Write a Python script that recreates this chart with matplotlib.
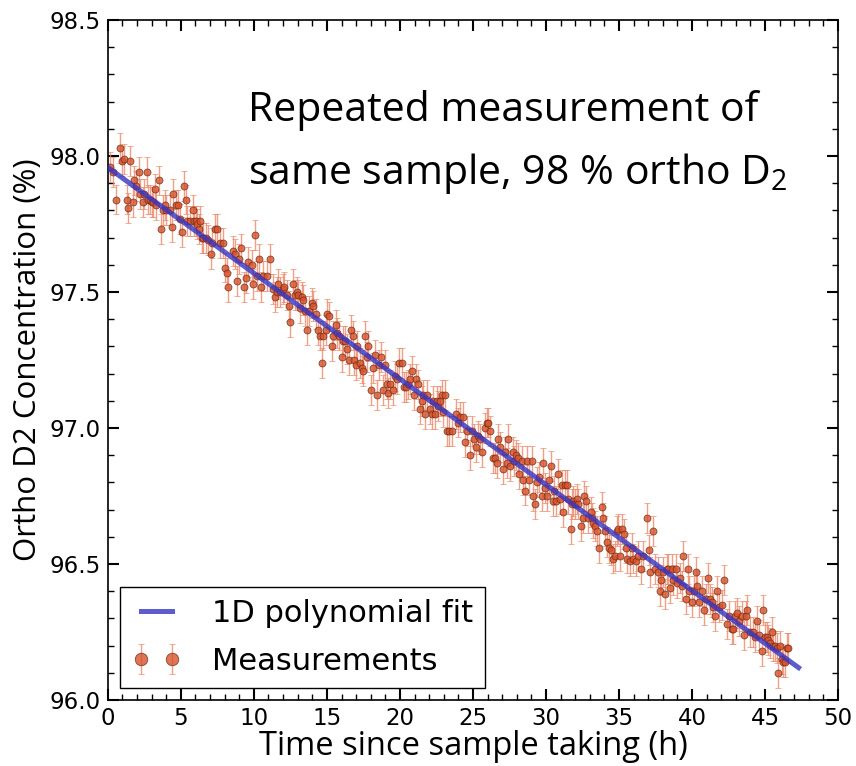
import numpy as np
import matplotlib.pyplot as plt
from matplotlib.ticker import MultipleLocator

time_h = [
    0.14, 0.32, 0.55, 0.82, 1.00, 1.10, 1.28, 1.39, 1.55, 1.69, 1.78, 1.96, 2.15, 2.19,
    2.42, 2.47, 2.69, 2.76, 2.88, 2.99, 3.10, 3.22, 3.33, 3.52, 3.61, 3.79, 3.90, 3.97,
    4.25, 4.36, 4.43, 4.66, 4.82, 4.93, 5.05, 5.21, 5.34, 5.43, 5.62, 5.80, 5.89, 6.03,
    6.12, 6.26, 6.30, 6.42, 6.53, 6.71, 6.87, 7.03, 7.10, 7.33, 7.44, 7.67, 7.90, 8.01,
    8.13, 8.24, 8.54, 8.70, 8.86, 9.00, 9.15, 9.31, 9.45, 9.61, 9.84, 9.95, 10.07, 10.18,
    10.36, 10.52, 10.64, 10.87, 11.10, 11.32, 11.44, 11.55,
    11.67, 11.82, 11.96, 12.08, 12.28, 12.42, 12.50, 12.69, 12.81, 12.92, 13.04, 13.15,
    13.27, 13.38, 13.49, 13.65, 13.79, 13.95, 14.06, 14.25, 14.41, 14.52, 14.63, 14.75,
    14.93, 15.02, 15.16, 15.32, 15.43, 15.61, 15.71, 15.84, 16.00, 16.12, 16.23, 16.35,
    16.53, 16.62, 16.76, 16.85, 16.99, 17.08, 17.26, 17.38, 17.49, 17.60, 17.72, 17.83,
    17.99, 18.13, 18.29, 18.45, 18.58, 18.67, 18.86, 18.97, 19.09, 19.20, 19.31, 19.50,
    19.66, 19.77, 19.95, 20.11, 20.27, 20.41, 20.57, 20.68, 20.86, 20.96, 21.09, 21.25,
    21.37, 21.48, 21.60, 21.71, 21.83, 22.05, 22.17, 22.28, 22.39, 22.51, 22.63, 22.74,
    22.85, 22.97, 23.08, 23.20, 23.38,
    23.54, 23.83, 23.99, 24.11, 24.29, 24.45, 24.57, 24.79, 24.91, 25.07, 25.21, 25.37,
    25.48, 25.60, 25.82, 25.94, 26.05, 26.16, 26.35, 26.51, 26.62, 26.74, 26.85, 27.03,
    27.19, 27.35, 27.42, 27.53, 27.72, 27.81, 27.95, 28.11, 28.17, 28.33, 28.45, 28.56,
    28.67, 28.86, 29.02, 29.13, 29.25, 29.41, 29.54, 29.70, 29.82, 29.93, 30.05, 30.23,
    30.32, 30.46, 30.55, 30.69, 30.85, 30.96, 31.07, 31.19, 31.30, 31.42, 31.53, 31.69,
    31.76, 31.87, 31.99, 32.10, 32.21, 32.37, 32.51, 32.62, 32.74, 32.90, 33.06, 33.13,
    33.24, 33.36, 33.47, 33.63, 33.81, 33.88, 34.04, 34.20, 34.34, 34.43, 34.57, 34.73,
    34.84,
    34.95, 35.07, 35.18, 35.34, 35.48, 35.57, 35.75, 35.87, 35.98, 36.16, 36.32, 36.48,
    36.67, 36.89, 37.08, 37.12, 37.30, 37.47, 37.69, 37.81, 37.88, 38.04, 38.15, 38.26,
    38.38, 38.49, 38.61, 38.72, 38.90, 39.00, 39.18, 39.29, 39.41, 39.59, 39.71, 39.82,
    39.98, 40.14, 40.28, 40.37, 40.50, 40.66, 40.82, 40.96, 41.12, 41.23, 41.35, 41.46,
    41.58, 41.74, 41.87, 42.03, 42.19, 42.37, 42.56, 42.72, 42.83, 42.95, 43.10, 43.24,
    43.40, 43.56, 43.69, 43.79, 43.97, 44.16, 44.32, 44.43, 44.61, 44.77, 44.89, 45.00,
    45.11, 45.23, 45.34, 45.46, 45.57, 45.68, 45.80, 45.91, 46.03, 46.14, 46.26, 46.37,
    46.48, 46.60,
]
ortho_pct = [
    97.96, 97.94, 97.84, 98.03, 97.98, 97.99, 97.84, 97.81, 97.98, 97.83, 97.91, 97.89, 97.94, 97.86,
    97.83, 97.86, 97.94, 97.84, 97.84, 97.83, 97.83, 97.88, 97.82, 97.91, 97.73, 97.80, 97.82, 97.80,
    97.80, 97.74, 97.86, 97.82, 97.82, 97.77, 97.72, 97.89, 97.84, 97.76, 97.76, 97.80, 97.76, 97.76,
    97.75, 97.73, 97.76, 97.70, 97.70, 97.70, 97.69, 97.64, 97.68, 97.73, 97.73, 97.68, 97.68, 97.59,
    97.57, 97.52, 97.65, 97.64, 97.54, 97.62, 97.66, 97.52, 97.55, 97.61, 97.60, 97.53, 97.71, 97.56,
    97.62, 97.52, 97.56, 97.56, 97.62, 97.51, 97.48, 97.50,
    97.53, 97.50, 97.51, 97.52, 97.49, 97.45, 97.39, 97.53, 97.49, 97.50, 97.49, 97.44,
    97.48, 97.47, 97.43, 97.36, 97.43, 97.46, 97.45, 97.42, 97.36, 97.34, 97.24, 97.34,
    97.36, 97.42, 97.41, 97.30, 97.34, 97.38, 97.35, 97.34, 97.26, 97.32, 97.32, 97.29,
    97.25, 97.36, 97.34, 97.25, 97.23, 97.30, 97.24, 97.22, 97.21, 97.34, 97.26, 97.30,
    97.14, 97.22, 97.27, 97.12, 97.23, 97.26, 97.14, 97.23, 97.16, 97.13, 97.16, 97.14,
    97.19, 97.18, 97.24, 97.24, 97.15, 97.15, 97.16, 97.18, 97.21, 97.12, 97.18, 97.16,
    97.07, 97.10, 97.12, 97.05, 97.12, 97.07, 97.05, 97.10, 97.05, 97.10, 97.08, 97.10,
    97.12, 97.06, 97.12, 96.99, 96.99,
    96.99, 97.05, 97.02, 97.04, 97.04, 96.95, 96.99, 96.90, 96.99, 96.96, 96.93, 96.97,
    96.96, 96.91, 97.00, 97.02, 97.02, 96.99, 96.89, 96.89, 96.87, 96.96, 96.93, 96.85,
    96.91, 96.87, 96.96, 96.86, 96.91, 96.88, 96.90, 96.89, 96.83, 96.88, 96.81, 96.77,
    96.88, 96.81, 96.88, 96.75, 96.72, 96.80, 96.82, 96.75, 96.87, 96.78, 96.75, 96.81,
    96.86, 96.73, 96.77, 96.73, 96.83, 96.74, 96.79, 96.69, 96.79, 96.79, 96.74, 96.63,
    96.72, 96.73, 96.72, 96.74, 96.72, 96.64, 96.67, 96.75, 96.73, 96.67, 96.69, 96.67,
    96.65, 96.64, 96.62, 96.56, 96.71, 96.67, 96.62, 96.58, 96.56, 96.55, 96.52, 96.53,
    96.62,
    96.63, 96.53, 96.63, 96.61, 96.56, 96.52, 96.51, 96.56, 96.52, 96.51, 96.53, 96.48,
    96.53, 96.67, 96.55, 96.47, 96.62, 96.48, 96.47, 96.40, 96.44, 96.47, 96.39, 96.48,
    96.48, 96.41, 96.48, 96.44, 96.48, 96.43, 96.45, 96.42, 96.53, 96.37, 96.48, 96.40,
    96.36, 96.40, 96.47, 96.42, 96.36, 96.40, 96.33, 96.37, 96.45, 96.37, 96.36, 96.34,
    96.31, 96.40, 96.34, 96.35, 96.44, 96.28, 96.31, 96.26, 96.26, 96.31, 96.32, 96.29,
    96.31, 96.24, 96.31, 96.33, 96.25, 96.25, 96.23, 96.29, 96.24, 96.18, 96.33, 96.23,
    96.23, 96.22, 96.21, 96.25, 96.20, 96.20, 96.19, 96.10, 96.20, 96.15, 96.14, 96.14,
    96.19, 96.19,
]
err_pct = 0.055
fit_range_h = [0.0, 47.3]

plt.rcParams.update({
    "font.family": ["DejaVu Sans"],
    "mathtext.fontset": "custom",
    "mathtext.rm": "Open Sans",
})

fig = plt.figure(figsize=(8.56, 7.66), dpi=100)
ax = fig.add_axes([0.126, 0.0862, 0.853, 0.8877])

t = np.array(time_h)
c = np.array(ortho_pct)
coef = np.polyfit(t, c, 1)
tf = np.array(fit_range_h)

ax.errorbar(t, c, yerr=err_pct, fmt="o", ms=5, mfc="#d9522a", mec="#6b2a14",
            mew=0.6, alpha=0.8, ecolor="#ec8a6a", elinewidth=1.0, capsize=2.5,
            capthick=1.0, label="Measurements", zorder=2)
# fit line drawn over the points, semi-transparent
ax.plot(tf, np.polyval(coef, tf), color="#3434c4", lw=3.6, alpha=0.8,
        label="1D polynomial fit", zorder=3)

ax.set_xlim(0, 50)
ax.set_ylim(96.0, 98.5)
ax.xaxis.set_major_locator(MultipleLocator(5))
ax.xaxis.set_minor_locator(MultipleLocator(1))
ax.yaxis.set_major_locator(MultipleLocator(0.5))
ax.yaxis.set_minor_locator(MultipleLocator(0.1))
ax.yaxis.set_major_formatter(plt.FormatStrFormatter("%.1f"))
ax.tick_params(which="both", direction="in", top=True, right=True, labelsize=16.5)
ax.tick_params(which="major", length=8, width=1.5, pad=5)
ax.tick_params(which="minor", length=4, width=1.0)
for s in ax.spines.values():
    s.set_linewidth(1.2)

ax.set_xlabel("Time since sample taking (h)", family="Open Sans", fontsize=23.5, labelpad=0)
ax.set_ylabel("Ortho D2 Concentration (%)", family="Open Sans", fontsize=22.5, labelpad=5)

ax.text(0.192, 0.897, "Repeated measurement of\nsame sample, 98 % ortho D$_\\mathrm{2}$",
        transform=ax.transAxes, family="Open Sans", fontsize=29.5, ha="left", va="top",
        linespacing=1.6)

leg = ax.legend(loc="lower left", fontsize=22, numpoints=2, handlelength=1.6,
                handletextpad=1.0, labelspacing=0.6, markerscale=1.8,
                fancybox=False, framealpha=1, borderaxespad=0.4)
leg.get_frame().set_edgecolor("black")
leg.get_frame().set_linewidth(1.0)

fig.savefig("out.png", dpi=100)
